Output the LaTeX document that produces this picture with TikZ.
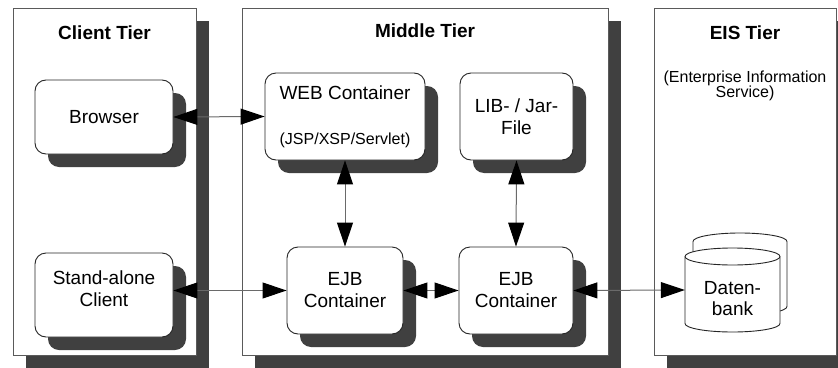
\documentclass[tikz,border=0pt]{standalone}
\usepackage{fontspec}
\setmainfont{Liberation Sans}
\usetikzlibrary{arrows.meta,shadows}
\definecolor{shadowgray}{HTML}{404040}
\definecolor{framegray}{HTML}{5A5A5A}
\definecolor{linegray}{HTML}{6A6A6A}
\tikzset{
  myshadow/.style={general shadow={fill=shadowgray, shadow xshift=13pt, shadow yshift=-13pt}},
  tier/.style={rectangle, draw=framegray, line width=1pt, fill=white, inner sep=0pt,
    minimum height=347pt, myshadow},
  rbox/.style={rectangle, draw=black!85, line width=0.9pt, fill=white, rounded corners=11pt,
    inner sep=0pt, align=center, minimum height=87pt, myshadow,
    font=\fontsize{19}{22}\selectfont},
  title/.style={font=\bfseries\fontsize{19}{22}\selectfont, inner sep=0pt},
  sub/.style={font=\fontsize{16}{15}\selectfont, align=center, inner sep=0pt},
  conn/.style={draw=linegray, line width=1pt,
    {Triangle[length=24pt,width=16pt,color=black]}-{Triangle[length=24pt,width=16pt,color=black]}},
  cyl/.style={draw=black!85, line width=0.9pt, fill=white}
}
\begin{document}
\begin{tikzpicture}[x=1pt,y=1pt]
\useasboundingbox (0,0) rectangle (838,-367);
\clip (0,0) rectangle (838,-367);
% tiers
\node[tier, minimum width=183pt] (client) at (104.5,-181.5) {};
\node[tier, minimum width=366pt] (middle) at (425,-181.5) {};
\node[tier, minimum width=182pt] (eis) at (745,-181.5) {};
\node[title] (tclient) at (104.5,-33) {Client Tier};
\node[title] (tmiddle) at (425,-31) {Middle Tier};
\node[title] (teis) at (745,-33) {EIS Tier};
\node[sub] (seis) at (745,-86) {(Enterprise Information\\Service)};
% inner boxes
\node[rbox, minimum width=138pt, minimum height=74pt] (browser) at (104,-117) {Browser};
\node[rbox, minimum width=138pt, minimum height=84pt] (sa) at (104,-295) {Stand-alone\\Client\\[-10pt]};
\node[rbox, minimum width=160pt] (web) at (345,-116.5)
  {WEB Container\\[23pt]{\fontsize{16}{18}\selectfont (JSP/XSP/Servlet)}};
\node[rbox, minimum width=113pt] (lib) at (516.5,-116.5) {LIB- / Jar-\\File};
\node[rbox, minimum width=116pt] (ejb1) at (345,-290.5) {EJB\\Container};
\node[rbox, minimum width=114pt] (ejb2) at (516,-290.5) {EJB\\Container};
% database
\draw[cyl] (693,-241.5) -- (693,-306.5) arc[start angle=180,end angle=360,x radius=47,y radius=8.5]
  -- (787,-241.5) arc[start angle=0,end angle=180,x radius=47,y radius=8.5] -- cycle;
\draw[cyl] (685,-256.5) -- (685,-323.5) arc[start angle=180,end angle=360,x radius=47.5,y radius=8.5]
  -- (780,-256.5) arc[start angle=0,end angle=180,x radius=47.5,y radius=8.5] -- cycle;
\draw[draw=black!85, line width=0.9pt] (685,-256.5) arc[start angle=180,end angle=360,x radius=47.5,y radius=8.5];
\node[inner sep=0pt, minimum width=95pt, minimum height=84pt, align=center,
  font=\fontsize{19}{21}\selectfont] (db) at (732.5,-290) {\\[9pt]Daten-\\bank};
% connectors
\draw[conn] (browser.east) -- (web.west);
\draw[conn] (sa.east |- ejb1.west) -- (ejb1.west);
\draw[conn] (web.south) -- (ejb1.north);
\draw[conn] (lib.south) -- (ejb2.north);
\draw[conn] (ejb1.east) -- (ejb2.west);
\draw[conn] (ejb2.east) -- (db.west);
\end{tikzpicture}
\end{document}
